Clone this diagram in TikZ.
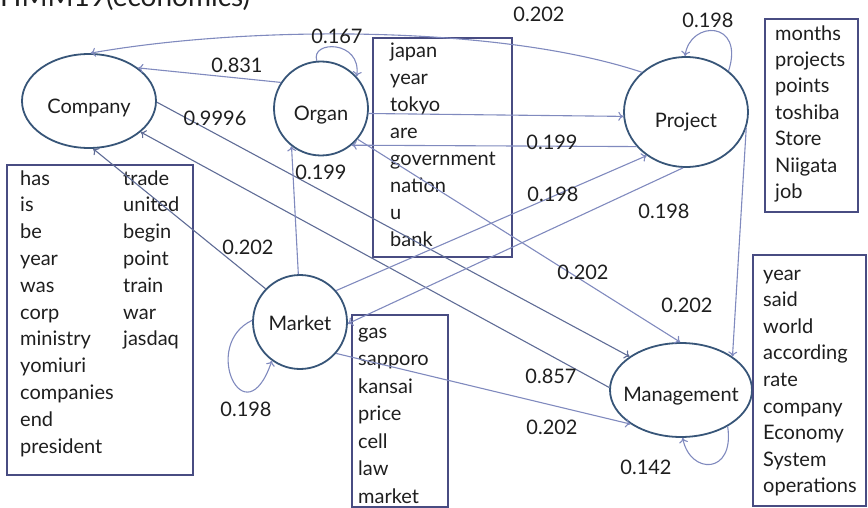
\documentclass[tikz,border=0pt]{standalone}
\usepackage{fontspec}
\setmainfont{Lato}
\usetikzlibrary{arrows.meta,shapes.geometric}

\definecolor{nodeline}{RGB}{55,85,120}
\definecolor{boxline}{RGB}{72,76,130}
\definecolor{edgelight}{RGB}{128,138,190}
\definecolor{edgedark}{RGB}{95,108,150}
\definecolor{ink}{RGB}{30,30,30}

\tikzset{
  state/.style={draw=nodeline, line width=1.8pt, inner sep=0pt},
  statename/.style={font=\fontsize{20}{24}\selectfont, text=ink, inner sep=0pt},
  wordbox/.style={draw=boxline, line width=1.8pt, rectangle, inner sep=0pt},
  % a multi-line node sits on the baseline of its last line
  words/.style={anchor=base west, align=left, inner sep=0pt, text=ink},
  weight/.style={font=\fontsize{20}{24}\selectfont, text=ink, inner sep=0pt},
  link/.style={draw=edgelight, line width=1.1pt, -{To[length=5pt,width=9pt]}},
  darklink/.style={link, draw=edgedark},
}

\begin{document}
\begin{tikzpicture}[x=1pt, y=-1pt]
\useasboundingbox (0,0) rectangle (868,508);
\clip (0,0) rectangle (868,508);

% title
\node[anchor=base west, inner sep=0pt, text=ink, font=\fontsize{28}{32}\selectfont]
  (title) at (0,7) {HMM19(economics)};

% states
\node[state, ellipse, minimum width=134pt, minimum height=94pt] (Company) at (89,101) {};
\node[state, circle, minimum size=94pt] (Organ) at (321,108.5) {};
\node[state, ellipse, minimum width=124pt, minimum height=110pt] (Project) at (686,112) {};
\node[state, circle, minimum size=94pt] (Market) at (300,322) {};
\node[state, ellipse, minimum width=142pt, minimum height=94pt] (Management) at (681,390) {};

\node[statename, yshift=-7pt] (CompanyName) at (Company.center) {Company};
\node[statename, yshift=-7pt] (OrganName) at (Organ.center) {Organ};
\node[statename, yshift=-10pt] (ProjectName) at (Project.center) {Project};
\node[statename, yshift=-1pt] (MarketName) at (Market.center) {Market};
\node[statename, yshift=-6pt] (ManagementName) at (Management.center) {Management};

% word lists
\node[wordbox, minimum width=186pt, minimum height=310pt] (cbox) at (100,320) {};
\node[wordbox, minimum width=139pt, minimum height=219pt] (obox) at (442.5,147.5) {};
\node[wordbox, minimum width=93pt, minimum height=193pt] (pbox) at (811.5,115.5) {};
\node[wordbox, minimum width=96pt, minimum height=192pt] (kbox) at (400,411) {};
\node[wordbox, minimum width=113pt, minimum height=251pt] (gbox) at (809.5,380.5) {};

\node[words, font=\fontsize{20}{26.8}\selectfont] (cwordsA) at (20,453)
  {has\\is\\be\\year\\was\\corp\\ministry\\yomiuri\\companies\\end\\president};
\node[words, font=\fontsize{20}{26.8}\selectfont] (cwordsB) at (123,345.8)
  {trade\\united\\begin\\point\\train\\war\\jasdaq};
\node[words, font=\fontsize{20}{27.1}\selectfont] (owords) at (390,246.7)
  {japan\\year\\tokyo\\are\\government\\nation\\u\\bank};
\node[words, font=\fontsize{20}{26.4}\selectfont] (pwords) at (775,198.4)
  {months\\projects\\points\\toshiba\\Store\\Niigata\\job};
\node[words, font=\fontsize{20}{27.5}\selectfont] (kwords) at (358,503)
  {gas\\sapporo\\kansai\\price\\cell\\law\\market};
\node[words, font=\fontsize{20}{26.6}\selectfont] (gwords) at (763,492.8)
  {year\\said\\world\\according\\rate\\company\\Economy\\System\\operations};

% transitions
\draw[link] (Project.138) .. controls (500,25) and (250,25) .. (Company.88);
\draw[link] (Organ.147) -- (Company.34);
\draw[link] (Organ.95) .. controls (310,40) and (362,40) .. (Organ.42);
\draw[link] (Project.44) .. controls (745,20) and (690,20) .. (Project.91);
\draw[link] (Market.178) .. controls (200,345) and (245,440) .. (Market.234);
\draw[link] (Management.-38) .. controls (735,475) and (690,475) .. (Management.-88);
\draw[darklink] (Company.-1) -- (Management.147);
\draw[darklink] (Management.178) -- (Company.-31);
\draw[link] (Organ.-40) -- (Management.91);
\draw[link] (Project.-145) -- (Organ.-50);
\draw[link] (Organ.-6) -- (Project.-176);
\draw[link] (Market.92) -- (Organ.-128);
\draw[darklink] (Market.136) -- (Company.-85);
\draw[link] (Market.41) -- (Project.-132);
\draw[link] (Project.-93) -- (Market.-2);
\draw[link] (Project.-15) -- (Management.33);
\draw[link] (Market.-41) -- (Management.214);

% transition probabilities
\node[weight] (w1)  at (539,14)  {0.202};
\node[weight] (w2)  at (708,20)  {0.198};
\node[weight] (w3)  at (237,65)  {0.831};
\node[weight] (w4)  at (337,36)  {0.167};
\node[weight] (w5)  at (215,118) {0.9996};
\node[weight] (w6)  at (552,142) {0.199};
\node[weight] (w7)  at (321,172) {0.199};
\node[weight] (w8)  at (553,194) {0.198};
\node[weight] (w9)  at (664,211) {0.198};
\node[weight] (w10) at (248,247) {0.202};
\node[weight] (w11) at (583,272) {0.202};
\node[weight] (w12) at (687,305) {0.202};
\node[weight] (w13) at (551,376) {0.857};
\node[weight] (w14) at (552,427) {0.202};
\node[weight] (w15) at (246,409) {0.198};
\node[weight] (w16) at (646,467) {0.142};
\end{tikzpicture}
\end{document}
